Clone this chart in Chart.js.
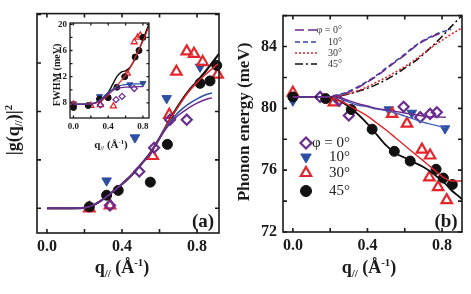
<!DOCTYPE html>
<html>
<head>
<meta charset="utf-8">
<script src="https://cdn.jsdelivr.net/npm/chart.js@4.4.1/dist/chart.umd.min.js"></script>
<style>
  html, body { margin: 0; padding: 0; background: #fff; }
  #wrap { position: relative; width: 471px; height: 294px; overflow: hidden; }
  #wrap canvas { position: absolute; left: 0; top: 0; }
</style>
</head>
<body>
<div id="wrap">
  <canvas id="cA" width="471" height="294"></canvas>
  <canvas id="cB" width="471" height="294"></canvas>
  <canvas id="cI" width="471" height="294"></canvas>
</div>
<script>
// ---- panel (a): |g(q)|^2 vs q ----
const qA45 = [0.226, 0.318, 0.38, 0.551, 0.642, 0.816, 0.869, 0.905];
const gA45 = [0.03, 0.27, 0.37, 0.54, 1.32, 2.58, 2.63, 2.95];
const qA30 = [0.226, 0.336, 0.564, 0.652, 0.69, 0.745, 0.784, 0.83, 0.91];
const gA30 = [0.0, 0.06, 1.08, 1.93, 2.82, 3.24, 3.19, 3.02, 2.76];
const qA0 = [0.336, 0.492, 0.571, 0.656, 0.745];
const gA0 = [0.06, 0.76, 1.25, 1.83, 1.83];
const qA10 = [0.318, 0.469, 0.638, 0.816];
const gA10 = [0.57, 1.46, 2.27, 2.92];

const qFitA = [0, 0.1, 0.2, 0.25, 0.3, 0.35, 0.4, 0.45, 0.5, 0.55, 0.6, 0.65, 0.7, 0.75, 0.8, 0.85, 0.88, 0.917];
const fitA45 = [0, 0, 0.01, 0.07, 0.19, 0.34, 0.5, 0.68, 0.9, 1.14, 1.45, 1.8, 2.12, 2.4, 2.62, 2.85, 3.0, 3.19];
const fitA30 = [0, 0, 0.01, 0.07, 0.19, 0.34, 0.5, 0.68, 0.9, 1.14, 1.45, 1.8, 2.1, 2.38, 2.6, 2.78, 2.88, 3.0];
const fitA10 = [0, 0, 0.01, 0.07, 0.19, 0.34, 0.5, 0.68, 0.9, 1.14, 1.45, 1.75, 1.98, 2.14, 2.26, 2.35, 2.38];
const fitA0 = [0, 0, 0.01, 0.07, 0.19, 0.34, 0.5, 0.68, 0.9, 1.14, 1.45, 1.72, 1.92, 2.06, 2.17, 2.25, 2.28];

// ---- inset: FWHM (meV) vs q ----
const qI45 = [0, 0.17, 0.3, 0.4, 0.5, 0.59, 0.71, 0.755, 0.8];
const wI45 = [7.3, 7.6, 8.6, 8.8, 10.4, 12.0, 15.0, 16.0, 18.0];
const qI30 = [0, 0.2, 0.31, 0.46, 0.62, 0.7, 0.74, 0.77];
const wI30 = [7.8, 7.6, 7.7, 7.5, 12.5, 17.3, 18.0, 18.3];
const qI0 = [0.31, 0.49, 0.56, 0.7];
const wI0 = [7.7, 8.5, 9.0, 10.2];
const qI10 = [0, 0.3, 0.65, 0.8];
const wI10 = [7.9, 9.0, 10.8, 11.0];

const qFitI = [0, 0.1, 0.2, 0.25, 0.3, 0.35, 0.4, 0.45, 0.5, 0.55, 0.6, 0.65, 0.7, 0.75, 0.8, 0.85, 0.87];
const fitI45 = [7.8, 7.8, 7.85, 8.0, 8.3, 8.8, 9.6, 10.8, 12.0, 12.7, 12.9, 13.4, 14.5, 16.0, 17.6, 19.4, 20.0];
const fitI30 = [7.8, 7.8, 7.85, 7.95, 8.2, 8.6, 9.2, 9.9, 10.6, 11.4, 12.2, 13.3, 14.6, 16.0, 17.4, 19.0, 19.6];
const fitI10 = [7.8, 7.8, 7.85, 8.0, 8.4, 9.0, 9.6, 10.1, 10.5, 10.7, 10.8, 10.85, 10.9, 10.9, 10.9];
const fitI0 = [7.8, 7.8, 7.85, 8.0, 8.3, 8.8, 9.4, 9.9, 10.2, 10.35, 10.4, 10.4, 10.45, 10.5, 10.5];

// ---- panel (b): phonon energy (meV) vs q ----
const qB0 = [0.146, 0.247, 0.30, 0.594, 0.683, 0.736, 0.772];
const eB0 = [80.74, 80.5, 79.54, 80.1, 79.43, 79.64, 79.75];
const qB10 = [0, 0.514, 0.638, 0.816];
const eB10 = [80.49, 79.92, 79.7, 78.69];
const qB30 = [0, 0.22, 0.532, 0.612, 0.692, 0.736, 0.732, 0.779, 0.825];
const eB30 = [81.01, 80.38, 79.64, 79.01, 77.33, 76.95, 75.53, 74.9, 74.06];
const qB45 = [0, 0.176, 0.313, 0.425, 0.544, 0.629, 0.768, 0.807, 0.855];
const eB45 = [80.74, 80.63, 79.92, 78.65, 77.22, 76.59, 76.06, 75.49, 75.07];

const qFitB = [0, 0.1, 0.2, 0.25, 0.3, 0.35, 0.4, 0.45, 0.5, 0.55, 0.6, 0.65, 0.7, 0.75, 0.8, 0.82, 0.85, 0.9, 0.907];
const fitB0 = [80.74, 80.74, 80.74, 80.7, 80.5, 80.3, 80.15, 80.0, 79.9, 79.8, 79.7, 79.6, 79.5, 79.45, 79.43, 79.42];
const fitB10 = [80.74, 80.74, 80.74, 80.65, 80.4, 80.2, 80.1, 79.95, 79.85, 79.7, 79.5, 79.3, 79.1, 78.95, 78.8, 78.75];
const fitB30 = [80.74, 80.74, 80.7, 80.5, 80.2, 79.85, 79.5, 79.05, 78.6, 78.1, 77.6, 77.1, 76.6, 76.1, 75.6, 75.45, 75.3, 75.3, 75.3];
const fitB45 = [80.74, 80.74, 80.7, 80.5, 80.1, 79.6, 79.0, 78.3, 77.6, 77.1, 76.8, 76.5, 76.2, 75.8, 75.3, 75.1, 74.7, 74.2, 74.1];

const qUp = [0, 0.1, 0.2, 0.25, 0.3, 0.35, 0.4, 0.45, 0.5, 0.55, 0.6, 0.65, 0.7, 0.75, 0.8, 0.85, 0.907];
const up0 = [80.74, 80.74, 80.76, 80.85, 81.05, 81.35, 81.7, 82.1, 82.55, 83.0, 83.45, 83.95, 84.35, 84.65, 84.9];
const up10 = [80.74, 80.74, 80.78, 80.9, 81.1, 81.4, 81.75, 82.15, 82.6, 83.05, 83.5, 84.0, 84.4, 84.7, 84.95, 85.1];
const up30 = [80.74, 80.74, 80.75, 80.8, 80.95, 81.15, 81.4, 81.7, 82.0, 82.35, 82.7, 83.1, 83.55, 84.0, 84.4, 84.8, 85.2];
const up45 = [80.74, 80.74, 80.75, 80.8, 80.93, 81.1, 81.3, 81.55, 81.85, 82.2, 82.6, 83.0, 83.5, 84.05, 84.65, 85.3, 86.0];

// axis ticks
const qTicks = [0, 0.2, 0.4, 0.6, 0.8];
const qLabels = [0, 0.4, 0.8];
const gTicks = [0, 1, 2, 3, 4];
const eTicks = [72, 74, 76, 78, 80, 82, 84, 86];
const eLabels = [72, 76, 80, 84];
const wTicks = [8, 10, 12, 14, 16, 18, 20];
const wLabels = [8, 12, 16, 20];
const phiNames = ['\u03c6 = 0\u00b0', '10\u00b0', '30\u00b0', '45\u00b0'];

const BLACK = '#111', RED = '#e3262b', BLUE = '#2c4fa3', PURPLE = '#6b2c8e';
const SERIF = '"Liberation Serif", "Times New Roman", serif';

const pts = (xs, ys) => ys.map((y, i) => ({ x: xs[i], y }));

function markers(xs, ys, kind, r) {
  const base = { type: 'scatter', data: pts(xs, ys), clip: false, pointRadius: r, pointHoverRadius: r };
  if (kind === 45) return { ...base, pointStyle: 'circle', backgroundColor: BLACK, borderColor: BLACK, borderWidth: 1 };
  if (kind === 30) return { ...base, pointStyle: 'triangle', pointRadius: r + 0.5, backgroundColor: 'rgba(0,0,0,0)', borderColor: RED, borderWidth: r > 4 ? 2.2 : 1.3 };
  if (kind === 0) return { ...base, pointStyle: 'rectRot', backgroundColor: 'rgba(0,0,0,0)', borderColor: PURPLE, borderWidth: r > 4 ? 2.2 : 1.3 };
  return { ...base, pointStyle: 'triangle', pointRotation: 180, pointRadius: r + 0.5, backgroundColor: BLUE, borderColor: BLUE, borderWidth: 1 };
}

function curve(xs, ys, color, width, dash) {
  return { type: 'line', data: pts(xs, ys), borderColor: color, borderWidth: width, borderDash: dash || [],
    pointRadius: 0, fill: false, tension: 0.35, cubicInterpolationMode: 'monotone' };
}

// text with sub/superscripts: parts = [text, sizeFactor, dy]
function rich(ctx, x, y, parts, size, align) {
  let w = 0;
  parts.forEach(p => { ctx.font = 'bold ' + (size * p[1]) + 'px ' + SERIF; w += ctx.measureText(p[0]).width; });
  let cx = align === 'center' ? x - w / 2 : x;
  parts.forEach(p => {
    ctx.font = 'bold ' + (size * p[1]) + 'px ' + SERIF;
    ctx.fillText(p[0], cx, y + p[2]);
    cx += ctx.measureText(p[0]).width;
  });
}
const qTitle = s => [['q', 1, 0], ['//', 0.6, s * 0.2], [' (\u00c5', 1, 0], ['-1', 0.6, -s * 0.38], [')', 1, 0]];

function frame(o) {
  return {
    id: 'frame',
    beforeDatasetsDraw(chart) {
      if (!o.fill) return;
      const a = chart.chartArea, ctx = chart.ctx;
      ctx.save(); ctx.fillStyle = '#fff';
      ctx.fillRect(a.left, a.top, a.right - a.left, a.bottom - a.top);
      ctx.restore();
    },
    afterDraw(chart) {
      const { ctx, chartArea: a, scales: { x, y } } = chart;
      ctx.save();
      ctx.strokeStyle = '#1a1a1a';
      ctx.lineWidth = o.lw;
      ctx.beginPath();
      o.xt.forEach(v => {
        const p = x.getPixelForValue(v);
        ctx.moveTo(p, a.bottom); ctx.lineTo(p, a.bottom - o.tl);
        ctx.moveTo(p, a.top); ctx.lineTo(p, a.top + o.tl);
      });
      o.yt.forEach(v => {
        const p = y.getPixelForValue(v);
        ctx.moveTo(a.left, p); ctx.lineTo(a.left + o.tl, p);
        ctx.moveTo(a.right, p); ctx.lineTo(a.right - o.tl, p);
      });
      ctx.stroke();
      ctx.strokeRect(a.left, a.top, a.right - a.left, a.bottom - a.top);
      ctx.fillStyle = '#1a1a1a';
      o.extra(ctx, chart);
      ctx.restore();
    }
  };
}

function axes(xr, yr, xt, yt, xl, yl, fx, fy, tickFont, xPad, yPad) {
  return {
    x: { type: 'linear', min: xr[0], max: xr[1], afterFit: s => { s.height = fx; },
      afterBuildTicks: s => { s.ticks = xt.map(v => ({ value: v })); },
      grid: { display: false, drawTicks: false }, border: { display: false },
      ticks: { autoSkip: false, maxRotation: 0, padding: xPad, color: '#1a1a1a',
        font: { family: SERIF, size: tickFont, weight: 'bold' },
        callback: v => xl.includes(v) ? v.toFixed(1) : '' } },
    y: { type: 'linear', min: yr[0], max: yr[1], afterFit: s => { s.width = fy; },
      afterBuildTicks: s => { s.ticks = yt.map(v => ({ value: v })); },
      grid: { display: false, drawTicks: false }, border: { display: false },
      ticks: { autoSkip: false, padding: yPad, color: '#1a1a1a',
        font: { family: SERIF, size: tickFont, weight: 'bold' },
        callback: v => yl.includes(v) ? String(v) : '' } }
  };
}

const common = { responsive: false, animation: false, devicePixelRatio: 1,
  plugins: { legend: { display: false }, tooltip: { enabled: false } } };

// panel (a)
new Chart(document.getElementById('cA'), {
  type: 'scatter',
  data: { datasets: [
    curve(qFitA, fitA0, PURPLE, 1.5), curve(qFitA, fitA10, BLUE, 1.5),
    curve(qFitA, fitA30, RED, 1.5), curve(qFitA, fitA45, BLACK, 2.2),
    markers(qA45, gA45, 45, 5), markers(qA0, gA0, 0, 5),
    markers(qA30, gA30, 30, 5.5), markers(qA10, gA10, 10, 5)
  ] },
  options: { ...common,
    layout: { padding: { left: 0, top: 11, right: 252, bottom: 0 } },
    scales: axes([-0.053, 0.917], [-0.51, 4.02], qTicks, gTicks, qLabels, [], 61, 37, 16, 4, 4) },
  plugins: [frame({ lw: 1.6, tl: 4, xt: qTicks, yt: gTicks, extra(ctx) {
    ctx.textBaseline = 'alphabetic';
    rich(ctx, 122, 273, qTitle(18), 18, 'center');
    ctx.save(); ctx.translate(19, 130); ctx.rotate(-Math.PI / 2);
    rich(ctx, 0, 0, [['|g(q', 1, 0], ['//', 0.6, 3], [')|', 1, 0], ['2', 0.6, -7]], 18, 'center');
    ctx.restore();
    ctx.font = 'bold 19px ' + SERIF; ctx.textAlign = 'center';
    ctx.fillText('(a)', 203, 227);
  } })]
});

// panel (b)
new Chart(document.getElementById('cB'), {
  type: 'scatter',
  data: { datasets: [
    curve(qUp, up0, PURPLE, 1.6, [9, 4]), curve(qUp, up10, '#3346a8', 1.6, [5, 3]),
    curve(qUp, up30, RED, 1.6, [2, 2]), curve(qUp, up45, BLACK, 1.6, [8, 3, 2, 3]),
    curve(qFitB, fitB0, PURPLE, 1.4), curve(qFitB, fitB10, '#4a63b8', 1.4),
    curve(qFitB, fitB30, RED, 1.4), curve(qFitB, fitB45, BLACK, 1.8),
    markers(qB45, eB45, 45, 5), markers(qB0, eB0, 0, 5),
    markers(qB30, eB30, 30, 5.5), markers(qB10, eB10, 10, 5)
  ] },
  options: { ...common,
    layout: { padding: { left: 0, top: 11, right: 9, bottom: 0 } },
    scales: axes([-0.053, 0.907], [72, 86], qTicks, eTicks, qLabels, eLabels, 62, 283, 16, 4, 6) },
  plugins: [frame({ lw: 1.6, tl: 4, xt: qTicks, yt: eTicks, extra(ctx) {
    ctx.textBaseline = 'alphabetic';
    rich(ctx, 369, 273, qTitle(18), 18, 'center');
    ctx.save(); ctx.translate(249, 122); ctx.rotate(-Math.PI / 2);
    ctx.font = 'bold 17px ' + SERIF; ctx.textAlign = 'center';
    ctx.fillText('Phonon energy (meV)', 0, 0);
    ctx.restore();
    ctx.font = 'bold 19px ' + SERIF; ctx.textAlign = 'center';
    ctx.fillText('(b)', 446, 227);
    // line legend
    const styles = [[PURPLE, [9, 4]], ['#3346a8', [5, 3]], [RED, [2, 2]], [BLACK, [8, 3, 2, 3]]];
    const ly = [30, 42, 53, 64];
    ctx.font = '10px ' + SERIF; ctx.textAlign = 'right'; ctx.textBaseline = 'middle';
    styles.forEach((s, i) => {
      ctx.strokeStyle = s[0]; ctx.lineWidth = 1.6; ctx.setLineDash(s[1]);
      ctx.beginPath(); ctx.moveTo(295, ly[i]); ctx.lineTo(317, ly[i]); ctx.stroke();
      ctx.fillStyle = '#333'; ctx.fillText(phiNames[i], 342, ly[i]);
    });
    ctx.setLineDash([]);
    // marker legend
    const my = [143, 157, 173, 191];
    const mk = [
      { pointStyle: 'rectRot', radius: 5.5, rotation: 0, borderWidth: 2.2, fill: 'rgba(0,0,0,0)', stroke: PURPLE },
      { pointStyle: 'triangle', radius: 6, rotation: 180, borderWidth: 1, fill: BLUE, stroke: BLUE },
      { pointStyle: 'triangle', radius: 6, rotation: 0, borderWidth: 2.2, fill: 'rgba(0,0,0,0)', stroke: RED },
      { pointStyle: 'circle', radius: 5.5, rotation: 0, borderWidth: 1, fill: BLACK, stroke: BLACK }
    ];
    ctx.font = '15px ' + SERIF;
    mk.forEach((m, i) => {
      ctx.fillStyle = m.fill; ctx.strokeStyle = m.stroke; ctx.lineWidth = m.borderWidth;
      Chart.helpers.drawPoint(ctx, m, 306, my[i]);
      ctx.fillStyle = '#222'; ctx.fillText(phiNames[i], 350, my[i]);
    });
  } })]
});

// inset
new Chart(document.getElementById('cI'), {
  type: 'scatter',
  data: { datasets: [
    curve(qFitI, fitI0, PURPLE, 1.2), curve(qFitI, fitI10, BLUE, 1.2),
    curve(qFitI, fitI30, RED, 1.2), curve(qFitI, fitI45, BLACK, 1.4),
    markers(qI45, wI45, 45, 3), markers(qI0, wI0, 0, 3),
    markers(qI30, wI30, 30, 3), markers(qI10, wI10, 10, 3)
  ] },
  options: { ...common,
    layout: { padding: { left: 0, top: 23, right: 322, bottom: 0 } },
    scales: axes([-0.04, 0.87], [5.7, 20.2], qTicks, wTicks, qLabels, wLabels, 176, 70, 9, 3, 3) },
  plugins: [frame({ lw: 1.3, tl: 2.5, fill: true, xt: qTicks, yt: wTicks, extra(ctx) {
    ctx.textBaseline = 'alphabetic';
    rich(ctx, 111, 148, qTitle(11), 11, 'center');
    ctx.save(); ctx.translate(60, 75); ctx.rotate(-Math.PI / 2);
    ctx.font = 'bold 10px ' + SERIF; ctx.textAlign = 'center';
    ctx.fillText('FWHM (meV)', 0, 0);
    ctx.restore();
  } })]
});
</script>
</body>
</html>
